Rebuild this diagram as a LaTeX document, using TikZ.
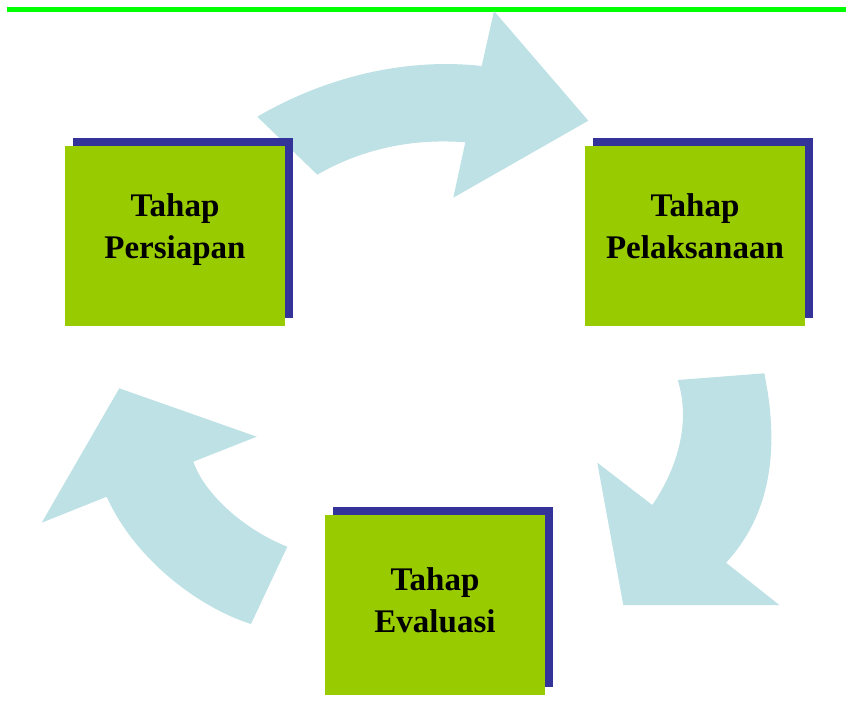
\documentclass[tikz,border=0pt]{standalone}
\usepackage{fontspec}
\setmainfont{Liberation Serif}
\usetikzlibrary{shadows}
\definecolor{phasegreen}{HTML}{99CC00}
\definecolor{phaseshadow}{HTML}{333399}
\definecolor{cyclecyan}{HTML}{BDE1E4}
\definecolor{rulegreen}{HTML}{00FF00}

\begin{document}
\begin{tikzpicture}[x=0.75pt,y=-0.75pt,
    phase/.style={fill=phasegreen,minimum width=165pt,minimum height=135pt,inner sep=0pt,
        general shadow={fill=phaseshadow,shadow xshift=6pt,shadow yshift=6pt}},
    phaselabel/.style={align=center,inner sep=0pt,font=\fontsize{24.75}{31.5}\selectfont\bfseries},
    cycle/.style={fill=cyclecyan,draw=none}]
    \useasboundingbox (0,0) rectangle (846,700);
    \fill[rulegreen] (7,6.7) rectangle (846,11.7);
    % the three curved arrows
    \fill[cycle] (257.3,116.7) .. controls (320,80) and (400,57) .. (481.7,66)
        -- (494,11) -- (588.3,120.7) -- (453.3,197.7) -- (465.3,142.3)
        .. controls (410,138) and (360,150) .. (317.3,174.7) -- cycle;
    \fill[cycle] (677.7,380) -- (764.3,373.3) .. controls (778,440) and (775,510) .. (726,562.7)
        -- (779.3,605) -- (623.3,605) -- (597.3,462.7) -- (652.3,505)
        .. controls (675,472) and (692,425) .. (677.7,380) -- cycle;
    \fill[cycle] (119.3,388.3) -- (256.7,436.7) -- (193.3,461.7)
        .. controls (205,495) and (245,530) .. (287.3,546.7) -- (251,624)
        .. controls (200,608) and (135,560) .. (106.7,496.7) -- (41.7,522.7) -- cycle;
    % phases
    \node[phase] (persiapan) at (175,236) {};
    \node[phase] (pelaksanaan) at (695,236) {};
    \node[phase] (evaluasi) at (435,604.5) {};
    \node[phaselabel] (persiapanlbl) at (175,229.5) {Tahap\\Persiapan};
    \node[phaselabel] (pelaksanaanlbl) at (695,226) {Tahap\\Pelaksanaan};
    \node[phaselabel] (evaluasilbl) at (435,600.5) {Tahap\\Evaluasi};
\end{tikzpicture}
\end{document}
